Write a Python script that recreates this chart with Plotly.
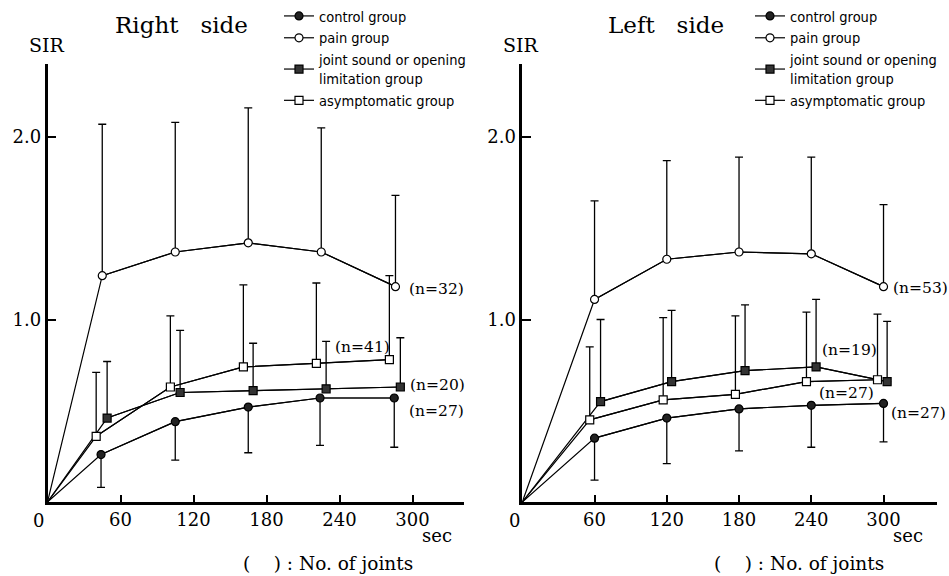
import plotly.graph_objects as go

# ---------------- data ----------------
groups = ["control group", "pain group", "joint sound or opening<br>limitation group", "asymptomatic group"]

# Right side
r_x_ctrl = [44, 105, 165, 224, 285]
r_x_pain = [45, 105, 165, 225, 286]
r_x_joint = [49, 109, 169, 229, 290]
r_x_asym = [40, 101, 161, 221, 281]
r_ctrl = [0.26, 0.44, 0.52, 0.57, 0.57]
r_ctrl_sd = [0.18, 0.21, 0.25, 0.26, 0.27]
r_pain = [1.24, 1.37, 1.42, 1.37, 1.18]
r_pain_sd = [0.83, 0.71, 0.74, 0.68, 0.50]
r_joint = [0.46, 0.60, 0.61, 0.62, 0.63]
r_joint_sd = [0.31, 0.34, 0.26, 0.26, 0.27]
r_asym = [0.36, 0.63, 0.74, 0.76, 0.78]
r_asym_sd = [0.35, 0.39, 0.45, 0.44, 0.46]

# Left side
l_x_ctrl = [60, 120, 180, 240, 300]
l_x_pain = [60, 120, 180, 240, 300]
l_x_joint = [65, 124, 185, 244, 303]
l_x_asym = [56, 117, 177, 236, 295]
l_ctrl = [0.35, 0.46, 0.51, 0.53, 0.54]
l_ctrl_sd = [0.23, 0.25, 0.23, 0.23, 0.21]
l_pain = [1.11, 1.33, 1.37, 1.36, 1.18]
l_pain_sd = [0.54, 0.54, 0.52, 0.53, 0.45]
l_joint = [0.55, 0.66, 0.72, 0.74, 0.66]
l_joint_sd = [0.45, 0.39, 0.36, 0.37, 0.33]
l_asym = [0.45, 0.56, 0.59, 0.66, 0.67]
l_asym_sd = [0.40, 0.45, 0.43, 0.38, 0.36]

x_tickvals = [60, 120, 180, 240, 300]
x_ticktext = ["60", "120", "180", "240", "300"]
y_tickvals = [1.0, 2.0]
y_ticktext = ["1.0", "2.0"]

r_n_labels = ["(n=32)", "(n=41)", "(n=20)", "(n=27)"]
l_n_labels = ["(n=53)", "(n=19)", "(n=27)", "(n=27)"]

# ---------------- styles ----------------
styles = [
    dict(symbol="circle", color="#222222"),
    dict(symbol="circle", color="white"),
    dict(symbol="square", color="#333333"),
    dict(symbol="square", color="white"),
]
down = [True, False, False, False]

SERIF = "DejaVu Serif, Liberation Serif, serif"
NARROW = "DejaVu Sans Condensed, Liberation Sans Narrow, Liberation Sans, sans-serif"

fig = go.Figure()

panels = [
    ("x", "y", "legend",
     [(r_x_ctrl, r_ctrl, r_ctrl_sd), (r_x_pain, r_pain, r_pain_sd),
      (r_x_joint, r_joint, r_joint_sd), (r_x_asym, r_asym, r_asym_sd)]),
    ("x2", "y2", "legend2",
     [(l_x_ctrl, l_ctrl, l_ctrl_sd), (l_x_pain, l_pain, l_pain_sd),
      (l_x_joint, l_joint, l_joint_sd), (l_x_asym, l_asym, l_asym_sd)]),
]

for xa, ya, lg, series in panels:
    # lines from origin
    for xs, ys, sd in series:
        fig.add_trace(go.Scatter(x=[0] + xs, y=[0] + ys, mode="lines",
                                 line=dict(color="black", width=1.2),
                                 xaxis=xa, yaxis=ya, showlegend=False, hoverinfo="skip"))
    for i, (xs, ys, sd) in enumerate(series):
        zeros = [0] * len(sd)
        err = dict(type="data", symmetric=False,
                   array=zeros if down[i] else sd,
                   arrayminus=sd if down[i] else zeros,
                   color="black", thickness=1.3, width=4)
        fig.add_trace(go.Scatter(
            x=xs, y=ys, mode="lines+markers", name=groups[i],
            line=dict(color="black", width=1.2),
            marker=dict(symbol=styles[i]["symbol"], color=styles[i]["color"], size=8,
                        line=dict(color="black", width=1.2)),
            error_y=err, xaxis=xa, yaxis=ya, legend=lg))

W, H = 949, 576
def px(x):
    return x / W
def py(y):
    return 1 - y / H

axis_common = dict(showgrid=False, zeroline=False, showline=True, linecolor="black",
                   linewidth=2.5, ticks="inside", tickcolor="black", tickwidth=1.5,
                   tickfont=dict(family=SERIF, size=18, color="black"))

legend_common = dict(xanchor="left", yanchor="top", bgcolor="rgba(0,0,0,0)",
                     font=dict(family=NARROW, size=14.5, color="black"),
                     tracegroupgap=0, itemwidth=30, borderwidth=0)

fig.update_layout(
    width=W, height=H,
    margin=dict(l=0, r=0, t=0, b=0),
    paper_bgcolor="white", plot_bgcolor="white",
    xaxis=dict(domain=[px(47.5), px(463.6)], range=[0, 342], anchor="y",
               tickvals=x_tickvals, ticktext=x_ticktext, ticklen=7, **axis_common),
    yaxis=dict(domain=[py(502), py(64)], range=[0, 2.4], anchor="x",
               tickvals=y_tickvals, ticktext=y_ticktext, ticklen=9, **axis_common),
    xaxis2=dict(domain=[px(522.3), px(936.5)], range=[0, 344], anchor="y2",
                tickvals=x_tickvals, ticktext=x_ticktext, ticklen=7, **axis_common),
    yaxis2=dict(domain=[py(502), py(64)], range=[0, 2.4], anchor="x2",
                tickvals=y_tickvals, ticktext=y_ticktext, ticklen=9, **axis_common),
    legend=dict(x=px(279), y=py(0), **legend_common),
    legend2=dict(x=px(750), y=py(0), **legend_common),
    showlegend=True,
)

def ann(text, x, y, size, xanchor="center", family=SERIF):
    fig.add_annotation(text=text, x=px(x), y=py(y), xref="paper", yref="paper",
                       xanchor=xanchor, yanchor="middle", showarrow=False,
                       font=dict(family=family, size=size, color="black"))

NB = "\u00a0"
# titles and axis labels
ann("Right" + NB * 3 + "side", 181, 25, 23)
ann("Left" + NB * 3 + "side", 666, 25, 23)
ann("SIR", 47, 45, 19)
ann("SIR", 521, 45, 19)
ann("0", 38, 520, 18)
ann("0", 514, 520, 18)
ann("sec", 437, 535, 18)
ann("sec", 908, 535, 18)
ann("(" + NB * 4 + ")" + NB + ":" + NB + "No." + NB + "of" + NB + "joints", 328, 563, 18.5)
ann("(" + NB * 4 + ")" + NB + ":" + NB + "No." + NB + "of" + NB + "joints", 799, 563, 18.5)

# n labels
r_pos = [(407, 289), (333, 347), (408, 385), (407, 411)]
l_pos = [(891, 288), (820, 350), (817, 393), (889, 413)]
for t, (x, y) in zip(r_n_labels, r_pos):
    ann(t, x, y, 15.5, xanchor="left")
for t, (x, y) in zip(l_n_labels, l_pos):
    ann(t, x, y, 15.5, xanchor="left")

fig.write_html("out.html", config={"displayModeBar": False},
               post_script="document.body.style.margin='0';")
